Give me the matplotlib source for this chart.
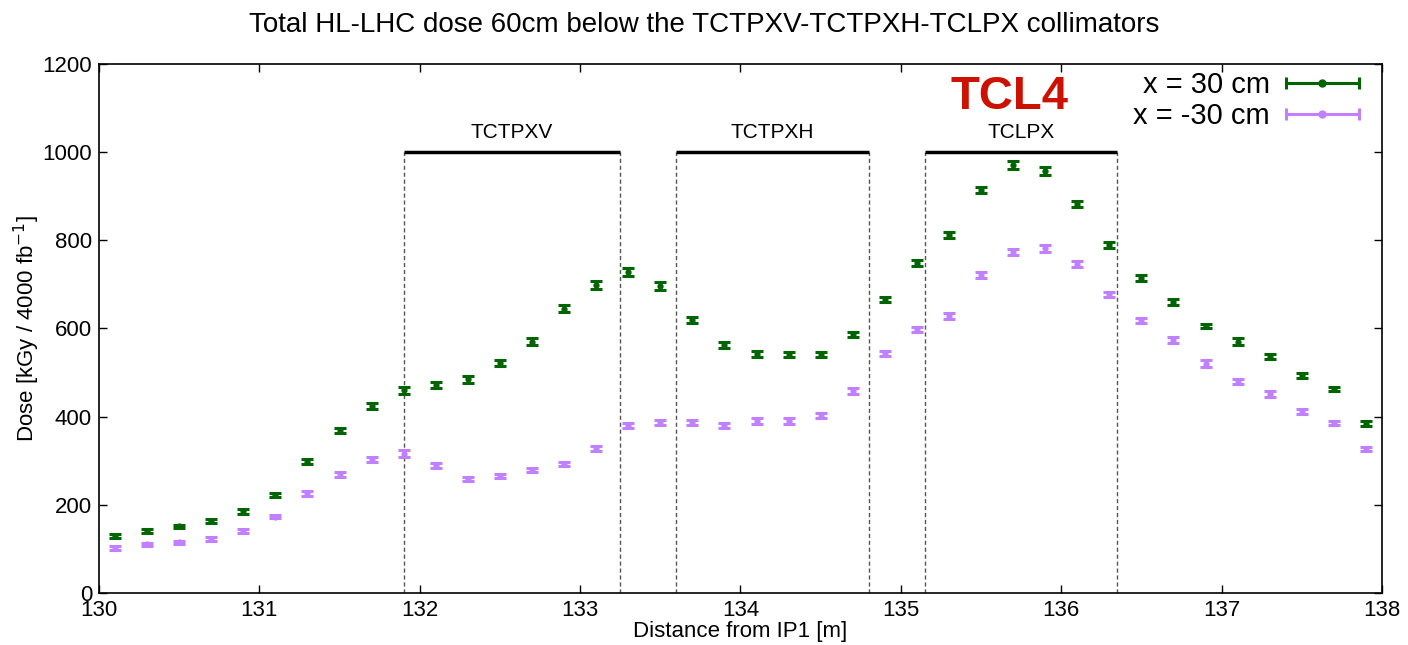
import matplotlib

matplotlib.use("Agg")
import matplotlib.pyplot as plt
from matplotlib.legend_handler import HandlerBase
from matplotlib.lines import Line2D

plt.rcParams["font.family"] = ["Liberation Sans", "DejaVu Sans"]

GREEN = "#006400"
PURPLE = "#c080ff"

# Posiciones de medida a lo largo del haz [m]
distancia = [130.1, 130.3, 130.5, 130.7, 130.9, 131.1, 131.3, 131.5, 131.7, 131.9,
             132.1, 132.3, 132.5, 132.7, 132.9, 133.1, 133.3, 133.5, 133.7, 133.9,
             134.1, 134.3, 134.5, 134.7, 134.9, 135.1, 135.3, 135.5, 135.7, 135.9,
             136.1, 136.3, 136.5, 136.7, 136.9, 137.1, 137.3, 137.5, 137.7, 137.9]

# Dosis a x = +30 cm
dosis_pos = [129, 141, 151, 163, 185, 222, 298, 369, 423, 459,
             471, 484, 521, 569, 644, 698, 728, 696, 618, 562,
             541, 540, 540, 586, 666, 748, 811, 914, 969, 956,
             882, 788, 714, 659, 605, 570, 536, 493, 463, 384]
err_pos = [4, 4, 4, 4, 5, 5, 6, 6, 7, 8,
           7, 7, 7, 8, 8, 10, 9, 9, 7, 7,
           7, 6, 6, 6, 6, 6, 7, 7, 9, 9,
           7, 7, 6, 7, 5, 7, 6, 6, 5, 5]

# Dosis a x = -30 cm
dosis_neg = [102, 110, 115, 122, 141, 173, 226, 269, 303, 316,
             289, 259, 265, 279, 293, 327, 380, 387, 387, 380,
             390, 390, 402, 458, 543, 597, 628, 720, 772, 781,
             746, 677, 618, 573, 520, 479, 451, 411, 385, 326]
err_neg = [4, 4, 4, 4, 4, 4, 5, 5, 5, 7,
           5, 5, 5, 5, 5, 6, 6, 6, 6, 6,
           6, 6, 6, 6, 6, 6, 6, 7, 7, 8,
           7, 6, 6, 7, 7, 6, 6, 6, 5, 5]

# Colimadores: nombre, inicio, fin [m]
colimadores = ["TCTPXV", "TCTPXH", "TCLPX"]
col_inicio = [131.9, 133.6, 135.15]
col_fin = [133.25, 134.8, 136.35]
ALTURA_COL = 1000


class HandlerBarraH(HandlerBase):
    """Muestra de leyenda estilo gnuplot: barra horizontal con topes y punto."""

    def create_artists(self, legend, orig_handle, xdescent, ydescent,
                       width, height, fontsize, trans):
        c = orig_handle.get_color()
        y = height / 2 - ydescent
        x0, x1 = -xdescent, width - xdescent
        linea = Line2D([x0, x1], [y, y], color=c, lw=2.2, transform=trans)
        topes = Line2D([x0, x1], [y, y], color=c, ls="none", marker="|",
                       markersize=9, markeredgewidth=2.2, transform=trans)
        punto = Line2D([(x0 + x1) / 2], [y], color=c, ls="none", marker="o",
                       markersize=5, transform=trans)
        return [linea, topes, punto]


fig = plt.figure(figsize=(14.08, 6.45), dpi=100)
ax = fig.add_axes([0.0703, 0.0806, 0.9112, 0.8209])

for d, e, c in [(dosis_pos, err_pos, GREEN), (dosis_neg, err_neg, PURPLE)]:
    ax.errorbar(distancia, d, yerr=e, fmt="o", color=c, markersize=3.5,
                elinewidth=2.2, capsize=4.5, capthick=2.2, zorder=3)

for nombre, a, b in zip(colimadores, col_inicio, col_fin):
    ax.plot([a, b], [ALTURA_COL, ALTURA_COL], color="black", lw=2.5,
            solid_capstyle="butt", zorder=2)
    for xv in (a, b):
        ax.plot([xv, xv], [0, ALTURA_COL], color="#555555", lw=1.0,
                ls=(0, (3, 2)), zorder=1)
    ax.text((a + b) / 2, ALTURA_COL + 22, nombre, ha="center", va="bottom",
            fontsize=15)

ax.text(135.68, 1124, "TCL4", color="#cc1100", fontsize=34, fontweight="bold",
        ha="center", va="center")

h_pos = Line2D([], [], color=GREEN)
h_neg = Line2D([], [], color=PURPLE)
ax.legend([h_pos, h_neg], ["x = 30 cm", "x = -30 cm"],
          handler_map={Line2D: HandlerBarraH()}, loc="upper right",
          bbox_to_anchor=(0.982, 0.985), markerfirst=False, frameon=False,
          fontsize=21, handlelength=2.5, handletextpad=0.55,
          labelspacing=0.1, borderpad=0, borderaxespad=0)

ax.set_xlim(130, 138)
ax.set_ylim(0, 1200)
ax.set_xticks(range(130, 139))
ax.set_yticks(range(0, 1201, 200))
ax.tick_params(direction="in", top=True, right=True, length=6, width=1,
               labelsize=16, pad=5)
for s in ax.spines.values():
    s.set_linewidth(1.2)

ax.set_xlabel("Distance from IP1 [m]", fontsize=16, labelpad=0)
ax.set_ylabel("Dose [kGy / 4000 fb$^{-1}$]", fontsize=16, labelpad=0)
fig.suptitle("Total HL-LHC dose 60cm below the TCTPXV-TCTPXH-TCLPX collimators",
             fontsize=20, y=0.982)

fig.savefig("out.png", dpi=100)
